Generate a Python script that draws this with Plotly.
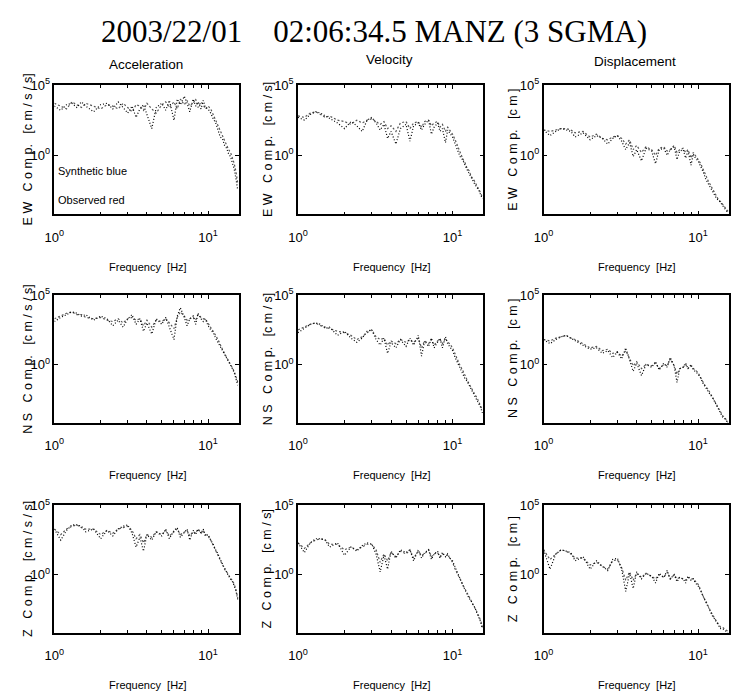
import plotly.graph_objects as go

# ---------------- data ----------------
freq_hz = [1.0, 1.1, 1.2, 1.3, 1.4, 1.5, 1.6, 1.8, 2.0, 2.2, 2.4, 2.6, 2.8, 3.0, 3.2, 3.4, 3.6, 3.8,
           4.0, 4.3, 4.6, 5.0, 5.3, 5.6, 6.0, 6.3, 6.6, 7.0, 7.3, 7.6, 8.0, 8.3, 8.6, 9.0, 9.3, 9.6,
           10.0, 10.4, 10.8, 11.2, 11.6, 12.0, 12.4, 12.8, 13.2, 13.6, 14.0, 14.4, 14.8, 15.2, 15.6]

components = ["E W", "N S", "Z"]
quantities = ["Acceleration", "Velocity", "Displacement"]
units = ["[c m / s / s]", "[c m / s]", "[c m ]"]
x_tick_vals = [1, 10]
x_tick_text = ["10<sup>0</sup>", "10<sup>1</sup>"]
y_tick_vals = [1, 100000]
y_tick_text = ["10<sup>0</sup>", "10<sup>5</sup>"]

# spectral amplitudes, stored as log10 values
acc_ew_obs = [3.5, 3.2, 3.6, 3.7, 3.4, 3.8, 3.5, 3.1, 3.6, 3.7, 3.3, 3.8, 3.4, 3.0, 3.5, 2.7, 3.3, 3.6,
              2.9, 1.9, 3.4, 3.7, 3.2, 3.9, 2.5, 4.0, 3.6, 4.2, 3.7, 3.1, 4.0, 3.5, 3.8, 3.3, 3.9, 3.4,
              3.3, 3.0, 2.6, 2.3, 1.8, 1.3, 1.2, 0.7, 0.5, 0.1, -0.1, -0.5, -1.0, -1.7, -2.5]
acc_ew_syn = [3.7, 3.5, 3.3, 3.8, 3.6, 3.4, 3.7, 3.5, 3.3, 3.6, 3.5, 3.3, 3.7, 3.4, 3.1, 3.6, 3.5, 3.2,
              3.7, 3.3, 3.0, 3.6, 3.8, 3.4, 3.8, 3.3, 4.0, 3.6, 3.9, 3.5, 3.7, 4.0, 3.4, 3.8, 3.6, 3.3,
              3.5, 3.3, 2.9, 2.5, 2.1, 1.7, 1.4, 1.1, 0.8, 0.4, 0.2, -0.2, -0.6, -1.2, -2.0]
vel_ew_obs = [2.7, 2.5, 2.9, 3.1, 3.0, 2.8, 2.6, 2.3, 1.9, 2.4, 2.1, 1.7, 2.5, 2.7, 2.3, 1.8, 2.2, 1.2,
              1.7, 0.8, 1.9, 2.2, 1.0, 2.1, 2.3, 1.8, 2.2, 2.5, 1.5, 2.0, 2.3, 1.7, 1.9, 0.9, 1.8, 1.6,
              1.3, 0.8, 0.4, -0.1, -0.3, -0.7, -1.0, -1.3, -1.6, -1.8, -2.1, -2.3, -2.5, -2.8, -3.1]
vel_ew_syn = [2.8, 2.7, 3.0, 3.1, 2.9, 2.7, 2.8, 2.5, 2.4, 2.2, 2.5, 2.3, 2.5, 2.6, 2.4, 2.2, 2.4, 1.9,
              2.1, 1.7, 2.3, 2.4, 1.9, 2.3, 2.4, 2.0, 2.4, 2.5, 2.1, 2.3, 2.4, 2.0, 2.2, 1.7, 2.0, 1.8,
              1.5, 1.1, 0.6, 0.2, -0.2, -0.5, -0.9, -1.1, -1.5, -1.7, -1.9, -2.2, -2.4, -2.7, -3.0]
dis_ew_obs = [1.8, 1.4, 1.7, 1.9, 1.8, 1.7, 1.3, 1.6, 1.1, 1.4, 1.2, 0.8, 1.2, 1.4, 1.0, 0.4, 0.9, -0.1,
              0.4, -0.4, 0.5, 0.3, -0.6, 0.4, 0.5, 0.0, 0.4, 0.6, -0.3, 0.3, 0.4, -0.2, 0.3, -0.7, 0.1, -0.2,
              -0.4, -0.8, -1.2, -1.7, -2.0, -2.3, -2.5, -2.8, -3.1, -3.2, -3.4, -3.6, -3.8, -3.9, -4.1]
dis_ew_syn = [1.8, 1.7, 1.8, 1.9, 1.9, 1.8, 1.6, 1.7, 1.3, 1.5, 1.2, 1.1, 1.3, 1.4, 1.2, 0.8, 1.1, 0.4,
              0.7, 0.2, 0.6, 0.4, 0.0, 0.5, 0.6, 0.3, 0.4, 0.7, 0.2, 0.4, 0.5, 0.2, 0.4, -0.2, 0.2, 0.0,
              -0.3, -0.6, -1.0, -1.5, -1.8, -2.1, -2.4, -2.7, -2.9, -3.2, -3.3, -3.5, -3.7, -3.8, -4.0]

acc_ns_obs = [3.1, 3.4, 3.6, 3.8, 3.7, 3.5, 3.6, 3.2, 3.5, 3.3, 2.8, 3.2, 2.7, 3.3, 3.6, 2.9, 3.3, 2.4,
              3.0, 2.2, 3.3, 2.9, 3.4, 2.7, 1.8, 3.5, 4.1, 3.4, 2.8, 3.3, 3.5, 2.9, 3.7, 3.3, 3.1, 3.3,
              2.8, 2.5, 2.3, 1.9, 1.6, 1.3, 1.0, 0.7, 0.4, 0.2, -0.1, -0.3, -0.6, -1.0, -1.5]
acc_ns_syn = [3.3, 3.5, 3.7, 3.8, 3.6, 3.6, 3.4, 3.3, 3.4, 3.2, 3.1, 3.3, 3.0, 3.3, 3.4, 3.2, 3.3, 2.8,
              3.2, 2.7, 3.2, 3.1, 3.3, 3.0, 2.6, 3.4, 3.8, 3.5, 3.2, 3.3, 3.4, 3.2, 3.6, 3.4, 3.3, 3.3,
              3.0, 2.7, 2.4, 2.1, 1.8, 1.4, 1.1, 0.8, 0.5, 0.3, 0.0, -0.3, -0.5, -0.9, -1.3]
vel_ns_obs = [2.3, 2.6, 2.9, 3.0, 2.9, 2.6, 2.7, 2.1, 2.4, 1.9, 1.6, 1.9, 2.4, 2.5, 1.8, 1.4, 1.9, 0.8,
              1.6, 1.2, 1.8, 1.3, 1.9, 1.4, 2.1, 0.6, 1.7, 1.3, 1.9, 1.2, 1.6, 1.9, 1.2, 2.0, 1.5, 1.3,
              1.0, 0.5, 0.1, -0.3, -0.6, -1.0, -1.2, -1.5, -1.7, -2.0, -2.3, -2.5, -2.8, -3.1, -3.5]
vel_ns_syn = [2.5, 2.7, 2.9, 3.0, 2.8, 2.7, 2.6, 2.4, 2.3, 2.1, 1.8, 2.0, 2.3, 2.5, 2.0, 1.8, 1.9, 1.4,
              1.7, 1.5, 1.8, 1.6, 1.8, 1.6, 1.9, 1.2, 1.7, 1.5, 1.8, 1.4, 1.7, 1.8, 1.5, 1.9, 1.6, 1.5,
              1.2, 0.7, 0.3, -0.1, -0.4, -0.8, -1.1, -1.4, -1.7, -1.9, -2.2, -2.4, -2.7, -3.0, -3.3]
dis_ns_obs = [1.8, 1.5, 1.8, 2.0, 2.1, 1.9, 1.7, 1.4, 1.1, 1.2, 0.8, 1.0, 0.5, 0.9, 0.4, 1.2, 0.3, -0.5,
              0.1, -0.8, 0.0, -0.2, 0.2, -0.4, 0.1, -0.2, 0.5, -0.1, -1.3, -0.3, -0.2, 0.1, -0.3, 0.0, -0.4, -0.5,
              -0.7, -1.0, -1.4, -1.7, -1.9, -2.2, -2.4, -2.7, -3.0, -3.2, -3.5, -3.8, -3.9, -4.1, -4.2]
dis_ns_syn = [1.8, 1.7, 1.9, 2.0, 2.1, 1.9, 1.8, 1.5, 1.2, 1.3, 1.0, 1.1, 0.8, 0.9, 0.6, 1.0, 0.4, -0.1,
              0.2, -0.3, 0.0, -0.1, 0.1, -0.3, 0.0, -0.1, 0.4, -0.1, -0.7, -0.3, -0.2, 0.0, -0.3, -0.1, -0.3, -0.4,
              -0.6, -1.0, -1.3, -1.6, -1.8, -2.1, -2.4, -2.6, -2.9, -3.2, -3.4, -3.7, -3.8, -4.0, -4.2]

acc_z_obs = [3.3, 2.5, 3.2, 3.6, 3.6, 3.5, 3.1, 3.3, 2.6, 3.2, 2.8, 3.3, 3.5, 3.6, 3.0, 2.0, 2.7, 1.7,
             2.9, 2.5, 3.1, 2.8, 3.3, 2.6, 3.2, 3.4, 2.7, 3.1, 3.3, 2.5, 3.2, 2.9, 3.3, 3.0, 3.3, 2.8,
             2.9, 2.5, 2.2, 1.8, 1.5, 1.1, 0.8, 0.4, 0.2, -0.1, -0.3, -0.5, -0.8, -1.2, -1.8]
acc_z_syn = [3.3, 2.9, 3.3, 3.5, 3.6, 3.4, 3.3, 3.3, 2.9, 3.2, 3.0, 3.3, 3.4, 3.5, 3.2, 2.6, 2.9, 2.3,
             2.9, 2.7, 3.1, 2.9, 3.2, 2.8, 3.1, 3.3, 2.9, 3.1, 3.2, 2.8, 3.1, 3.0, 3.3, 3.0, 3.2, 2.9,
             2.8, 2.5, 2.1, 1.8, 1.4, 1.1, 0.7, 0.4, 0.2, 0.0, -0.3, -0.4, -0.7, -1.1, -1.7]
vel_z_obs = [2.3, 1.6, 2.3, 2.6, 2.6, 2.5, 2.0, 2.3, 1.4, 2.0, 1.7, 2.1, 2.3, 2.2, 1.5, 0.2, 1.4, 0.4,
             1.7, 1.2, 1.8, 1.6, 1.8, 1.0, 1.8, 1.2, 1.6, 1.8, 1.1, 1.5, 1.7, 1.2, 1.6, 1.3, 1.5, 1.2,
             1.0, 0.5, 0.1, -0.3, -0.7, -1.0, -1.4, -1.7, -1.9, -2.2, -2.4, -2.8, -3.1, -3.4, -3.9]
vel_z_syn = [2.3, 1.9, 2.3, 2.5, 2.6, 2.5, 2.2, 2.2, 1.8, 2.0, 1.8, 2.0, 2.2, 2.2, 1.8, 0.9, 1.5, 1.0,
             1.6, 1.3, 1.7, 1.5, 1.8, 1.2, 1.7, 1.4, 1.5, 1.8, 1.3, 1.5, 1.6, 1.3, 1.5, 1.4, 1.4, 1.2,
             0.9, 0.4, 0.0, -0.3, -0.7, -1.0, -1.3, -1.6, -1.8, -2.1, -2.4, -2.7, -3.0, -3.3, -3.8]
dis_z_obs = [1.8, 0.4, 1.5, 1.8, 1.7, 1.6, 1.0, 1.3, 0.4, 1.0, 0.6, 0.3, 1.1, 1.2, 0.4, -1.2, 0.1, -1.0,
             0.2, -0.3, 0.1, -0.1, -0.6, 0.1, -0.2, 0.3, -0.3, 0.0, -0.5, -0.2, -0.3, -0.6, -0.1, -0.4, -0.3, -0.6,
             -0.8, -1.2, -1.7, -2.0, -2.4, -2.7, -3.0, -3.2, -3.5, -3.7, -3.9, -3.9, -4.0, -4.1, -4.2]
dis_z_syn = [1.8, 1.1, 1.5, 1.8, 1.7, 1.5, 1.2, 1.2, 0.7, 0.9, 0.6, 0.4, 1.0, 1.1, 0.5, -0.4, 0.2, -0.4,
             0.1, -0.2, 0.1, -0.1, -0.3, 0.0, -0.2, 0.2, -0.3, 0.0, -0.3, -0.2, -0.3, -0.4, -0.2, -0.3, -0.3, -0.5,
             -0.7, -1.1, -1.6, -1.9, -2.3, -2.6, -2.9, -3.2, -3.4, -3.6, -3.8, -3.8, -3.9, -4.0, -4.1]

observed = [[acc_ew_obs, vel_ew_obs, dis_ew_obs],
            [acc_ns_obs, vel_ns_obs, dis_ns_obs],
            [acc_z_obs, vel_z_obs, dis_z_obs]]
synthetic = [[acc_ew_syn, vel_ew_syn, dis_ew_syn],
             [acc_ns_syn, vel_ns_syn, dis_ns_syn],
             [acc_z_syn, vel_z_syn, dis_z_syn]]

# ---------------- layout helpers ----------------
W, H = 732, 696
col_px = [(45, 232), (292, 480), (541, 729)]
row_px = [(77, 208), (290, 419), (503, 632)]
ytitle_x_px = [18, 261, 510]


def fx(px):
    return px / W


def fy(py):
    return 1 - py / H


SANS = "Liberation Sans, Arial, sans-serif"
SERIF = "Liberation Serif, Times New Roman, serif"
NB = "\u00a0"

fig = go.Figure()
layout_axes = {}
annotations = []

for r in range(3):
    for c in range(3):
        n = r * 3 + c + 1
        xa = "x" if n == 1 else f"x{n}"
        ya = "y" if n == 1 else f"y{n}"
        for series, color, dash in ((synthetic[r][c], "#555555", "2px,2px"),
                                    (observed[r][c], "#000000", "1px,2px")):
            fig.add_trace(go.Scatter(
                x=freq_hz, y=[10 ** v for v in series], mode="lines",
                line=dict(color=color, width=1.2, dash=dash),
                xaxis=xa, yaxis=ya, showlegend=False, hoverinfo="skip"))
        x0, x1 = col_px[c]
        y0, y1 = row_px[r]
        common = dict(showline=True, linecolor="black", linewidth=1.5, mirror="ticks",
                      ticks="inside", ticklen=4, tickcolor="black", showgrid=False,
                      zeroline=False, tickfont=dict(family=SANS, size=13, color="black"))
        layout_axes["xaxis" if n == 1 else f"xaxis{n}"] = dict(
            type="log", range=[0, 1.2], domain=[fx(x0), fx(x1)], anchor=ya,
            tickmode="array", tickvals=x_tick_vals, ticktext=x_tick_text,
            ticklabelstandoff=10,
            minor=dict(ticks="inside", ticklen=3, tickcolor="black",
                       tickvals=[2, 3, 4, 5, 6, 7, 8, 9], showgrid=False),
            **common)
        layout_axes["yaxis" if n == 1 else f"yaxis{n}"] = dict(
            type="log", range=[-4.2, 5.001], domain=[fy(y1), fy(y0)], anchor=xa,
            tickmode="array", tickvals=y_tick_vals, ticktext=y_tick_text,
            ticklabelstandoff=0,
            **common)
        # y-axis title
        ytxt = (NB.join(components[r].split(" ")) + NB * 3 + "C" + NB + "o" + NB + "m" + NB + "p." +
                NB * 3 + units[c].replace(" ", NB))
        annotations.append(dict(
            text=ytxt, x=fx(ytitle_x_px[c]), y=fy((y0 + y1) / 2), xref="paper", yref="paper",
            textangle=-90, showarrow=False, xanchor="center", yanchor="middle",
            font=dict(family=SANS, size=12.5, color="black")))
        # x-axis title
        annotations.append(dict(
            text="Frequency" + NB * 2 + "[Hz]", x=fx((x0 + x1) / 2 + 1), y=fy(y1 + 53),
            xref="paper", yref="paper", showarrow=False, xanchor="center", yanchor="middle",
            font=dict(family=SANS, size=11, color="black")))

# column titles
for c, (q, ypx) in enumerate(zip(quantities, [56, 51, 53])):
    x0, x1 = col_px[c]
    annotations.append(dict(
        text=q, x=fx((x0 + x1) / 2 - 1), y=fy(ypx), xref="paper", yref="paper",
        showarrow=False, xanchor="center", yanchor="middle",
        font=dict(family=SANS, size=13.5, color="black")))

# main title
annotations.append(dict(
    text="2003/22/01" + NB * 4 + "02:06:34.5 MANZ (3 SGMA)", x=fx(369), y=fy(23),
    xref="paper", yref="paper", showarrow=False, xanchor="center", yanchor="middle",
    font=dict(family=SERIF, size=31, color="black")))

# in-panel legend text
annotations.append(dict(text="Synthetic blue", x=fx(47), y=fy(164), xref="paper", yref="paper",
                        showarrow=False, xanchor="left", yanchor="middle",
                        font=dict(family=SANS, size=11, color="black")))
annotations.append(dict(text="Observed red", x=fx(47), y=fy(194), xref="paper", yref="paper",
                        showarrow=False, xanchor="left", yanchor="middle",
                        font=dict(family=SANS, size=11, color="black")))

fig.update_layout(
    width=W, height=H, margin=dict(l=0, r=0, t=0, b=0),
    paper_bgcolor="white", plot_bgcolor="white",
    annotations=annotations, showlegend=False, **layout_axes)

fig.write_html("out.html", config={"displayModeBar": False},
               post_script="document.body.style.margin='0';")
